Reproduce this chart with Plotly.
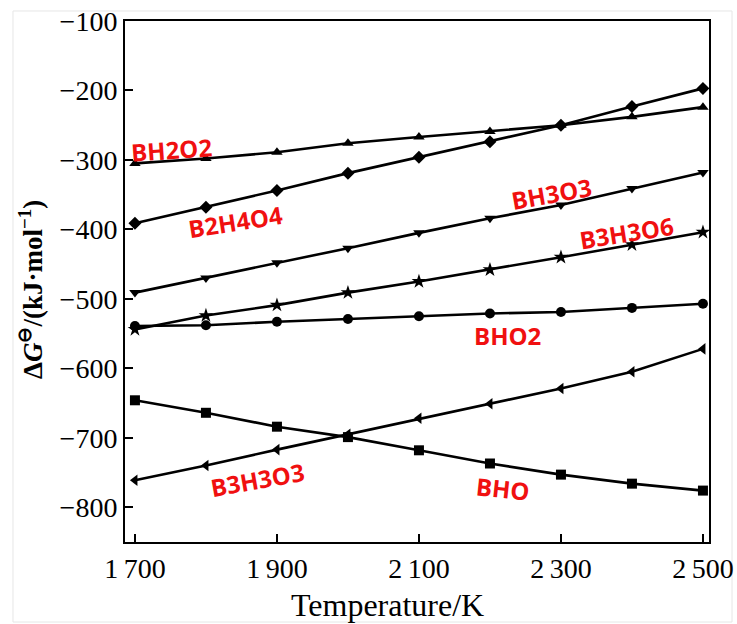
import plotly.graph_objects as go

temperature = [1700, 1800, 1900, 2000, 2100, 2200, 2300, 2400, 2500]

bh2o2 = [-305, -298, -289, -276, -267, -259, -250, -238, -224]
b2h4o4 = [-391, -368, -344, -319, -296, -274, -250, -223, -197]
bh3o3 = [-491, -470, -448, -427, -405, -384, -365, -341, -318]
b3h3o6 = [-544, -524, -509, -491, -475, -458, -440, -422, -404]
bho2 = [-539, -538, -533, -529, -525, -521, -519, -513, -507]
b3h3o3 = [-761, -740, -717, -695, -672, -651, -629, -605, -572]
bho = [-646, -664, -684, -699, -718, -737, -753, -766, -776]

series_names = ["BH2O2", "B2H4O4", "BH3O3", "B3H3O6", "BHO2", "B3H3O3", "BHO"]
series_values = [bh2o2, b2h4o4, bh3o3, b3h3o6, bho2, b3h3o3, bho]
series_symbols = ["triangle-up", "diamond", "triangle-down", "star", "circle", "triangle-left", "square"]

x_tickvals = [1700, 1900, 2100, 2300, 2500]
x_ticktext = ["1\u2009700", "1\u2009900", "2\u2009100", "2\u2009300", "2\u2009500"]
y_tickvals = [-100, -200, -300, -400, -500, -600, -700, -800]
y_ticktext = ["\u2212100", "\u2212200", "\u2212300", "\u2212400", "\u2212500", "\u2212600", "\u2212700", "\u2212800"]

x_title = "Temperature/K"
y_title = "<b>\u0394<i>G</i><sup>\u2296</sup>/(kJ\u00b7mol<sup>\u22121</sup>)</b>"

label_texts = ["BH2O2", "B2H4O4", "BH3O3", "B3H3O6", "BHO2", "B3H3O3", "BHO"]
label_x = [1752, 1842, 2287, 2393, 2225, 1873, 2218]
label_y = [-285, -389, -349, -404, -553, -760, -773]
label_angle = [-4, -9, -10, -9, 0, -10, 6]

fig = go.Figure()
for name, vals, sym in zip(series_names, series_values, series_symbols):
    fig.add_trace(go.Scatter(
        x=temperature, y=vals, name=name, mode="lines+markers",
        line=dict(color="black", width=2.6),
        marker=dict(symbol=sym, size=10 if sym != "star" else 11, color="black"),
        showlegend=False,
    ))

for t, x, y, a in zip(label_texts, label_x, label_y, label_angle):
    fig.add_annotation(
        x=x, y=y, text=t, showarrow=False, textangle=a,
        xanchor="center", yanchor="middle",
        font=dict(family="Open Sans", size=24, color="#f01010", weight=700),
    )

# axis titles placed as paper annotations to match reference offsets
fig.add_annotation(
    xref="paper", yref="paper", x=0.4503, y=-0.121, text=x_title,
    showarrow=False, xanchor="center", yanchor="middle",
    font=dict(family="Liberation Serif", size=32, color="black"),
)
fig.add_annotation(
    xref="paper", yref="paper", x=-0.161, y=0.4856, text=y_title,
    showarrow=False, xanchor="center", yanchor="middle", textangle=-90,
    font=dict(family="Liberation Serif", size=27, color="black"),
)

axis_font = dict(family="Liberation Serif", size=28, color="black")

fig.update_xaxes(
    range=[1686, 2508.5], tickvals=x_tickvals, ticktext=x_ticktext,
    ticks="inside", ticklen=8, tickwidth=1.5, tickcolor="black",
    showline=True, linecolor="black", linewidth=2, mirror=True,
    showgrid=False, zeroline=False, tickfont=axis_font, automargin=False,
)
fig.update_yaxes(
    range=[-850, -100], tickvals=y_tickvals, ticktext=y_ticktext,
    ticks="inside", ticklen=8, tickwidth=1.5, tickcolor="black",
    showline=True, linecolor="black", linewidth=2, mirror=True,
    showgrid=False, zeroline=False, tickfont=axis_font, automargin=False,
)

fig.add_shape(type="rect", xref="paper", yref="paper",
              x0=-0.1918, x1=1.0394, y0=-0.1536, y1=1.0192,
              line=dict(color="#e6e6e6", width=1), layer="below")

fig.update_layout(
    width=737, height=624,
    margin=dict(l=125, r=28, t=21, b=82),
    paper_bgcolor="white", plot_bgcolor="white",
    template="none",
)

fig.write_html(
    "out.html",
    config={"displayModeBar": False},
    post_script="document.body.style.margin='0';document.body.style.overflow='hidden';",
)
